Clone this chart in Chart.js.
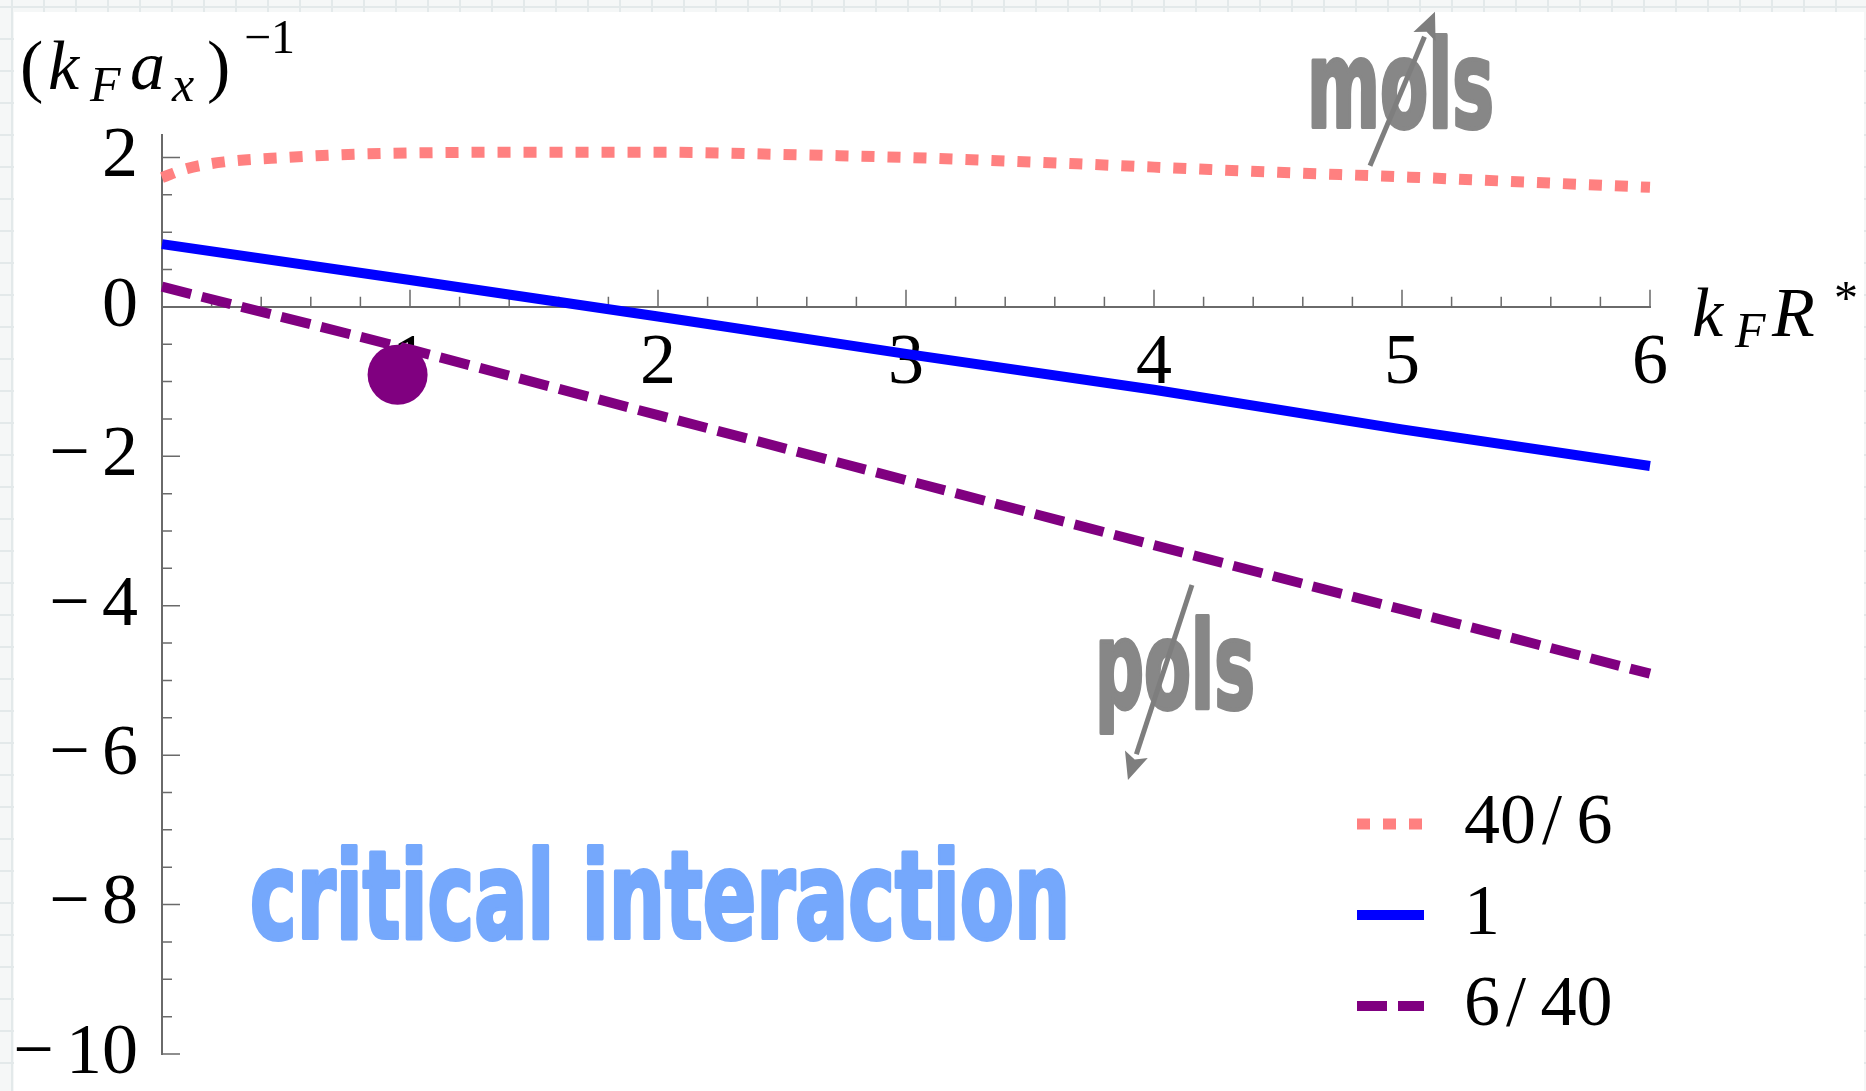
<!DOCTYPE html>
<html>
<head>
<meta charset="utf-8">
<title>(kF ax)^-1 frente a kF R*</title>
<script src="https://cdn.jsdelivr.net/npm/chart.js@4.4.1/dist/chart.umd.min.js"></script>
<style>
  html, body { margin: 0; padding: 0; }
  body {
    width: 1866px; height: 1091px; overflow: hidden; position: relative;
    background-color: #f5f7f7;
    background-image:
      linear-gradient(to right, #e3e9ea 2px, transparent 2px),
      linear-gradient(to bottom, #e3e9ea 2px, transparent 2px);
    background-size: 32px 32px;
    background-position: 11px 6px;
  }
  #hoja { position: absolute; left: 14px; top: 12px; width: 1850px; height: 1079px; background: #fff; }
  #contenedor { position: absolute; left: 0; top: 0; width: 1866px; height: 1091px; }
</style>
</head>
<body>
<div id="hoja"></div>
<div id="contenedor"><canvas id="graficoCritico"></canvas></div>
<script>
// curva 40/6
const xMasa406 = [0, 0.1, 0.25, 0.5, 0.75, 1, 1.5, 2, 2.5, 3, 3.5, 4, 4.5, 5, 5.5, 6];
const yMasa406 = [1.73, 1.85, 1.94, 2.00, 2.04, 2.06, 2.07, 2.07, 2.04, 2.00, 1.94, 1.87, 1.80, 1.74, 1.67, 1.60];
// curva 1
const xMasa1 = [0, 1, 2, 3, 4, 5, 6];
const yMasa1 = [0.84, 0.36, -0.13, -0.63, -1.11, -1.64, -2.13];
// curva 6/40
const xMasa640 = [0, 1, 2, 3, 4, 5, 6];
const yMasa640 = [0.27, -0.57, -1.45, -2.32, -3.19, -4.05, -4.91];
// punto marcado
const xPunto = [0.95];
const yPunto = [-0.91];

const etiquetas = ['40/6', '1', '6/40'];
const ticksX = [1, 2, 3, 4, 5, 6];
const ticksY = [2, 0, -2, -4, -6, -8, -10];

const serif = '"Liberation Serif", "Times New Roman", serif';
const rotulo = '"Liberation Sans Narrow", "DejaVu Sans Condensed", "DejaVu Sans", sans-serif';

function puntos(xs, ys) {
    return xs.map((x, i) => ({ x: x, y: ys[i] }));
}

function menos(v) {
    return v < 0 ? '\u2212\u200a\u200a' + (-v) : String(v);
}

// marcas de las escalas hacia dentro, como en Mathematica
const marcas = {
    id: 'marcas',
    beforeDatasetsDraw(chart) {
        const { ctx, scales: { x, y } } = chart;
        const y0 = y.getPixelForValue(0);
        const x0 = x.getPixelForValue(0);
        ctx.save();
        ctx.strokeStyle = '#6a6a6a';
        ctx.lineWidth = 1.5;
        ctx.beginPath();
        for (let k = 1; k <= 30; k++) {
            const px = x.getPixelForValue(k / 5);
            const largo = k % 5 === 0 ? 17 : 10;
            ctx.moveTo(px, y0);
            ctx.lineTo(px, y0 - largo);
        }
        for (let k = -20; k <= 4; k++) {
            if (k === 0) continue;
            const py = y.getPixelForValue(k / 2);
            const largo = k % 4 === 0 ? 18 : 10;
            ctx.moveTo(x0, py);
            ctx.lineTo(x0 + largo, py);
        }
        ctx.stroke();
        ctx.restore();
    }
};

const notas = [
    { texto: 'mols', x: 4.617, y: 2.41, ancho: 187, color: '#878787' },
    { texto: 'pols', x: 3.762, y: -5.368, ancho: 160, color: '#878787' },
    { texto: 'critical interaction', x: 0.355, y: -8.447, ancho: 820, color: '#75a8fc' }
];
const flechas = [
    { desde: [4.871, 1.888], hasta: [5.133, 3.949] },
    { desde: [4.153, -3.722], hasta: [3.895, -6.332] }
];

const anotaciones = {
    id: 'anotaciones',
    afterDatasetsDraw(chart) {
        const { ctx, scales: { x, y } } = chart;
        ctx.save();
        notas.forEach(n => {
            ctx.font = 'bold 122px ' + rotulo;
            const w = ctx.measureText(n.texto).width;
            ctx.save();
            ctx.translate(x.getPixelForValue(n.x), y.getPixelForValue(n.y));
            ctx.scale(n.ancho / w, 1);
            ctx.fillStyle = n.color;
            ctx.strokeStyle = n.color;
            ctx.lineWidth = 4;
            ctx.lineJoin = 'round';
            ctx.textBaseline = 'alphabetic';
            ctx.fillText(n.texto, 0, 0);
            ctx.strokeText(n.texto, 0, 0);
            ctx.restore();
        });
        flechas.forEach(f => {
            const x1 = x.getPixelForValue(f.desde[0]), y1 = y.getPixelForValue(f.desde[1]);
            const x2 = x.getPixelForValue(f.hasta[0]), y2 = y.getPixelForValue(f.hasta[1]);
            const ang = Math.atan2(y2 - y1, x2 - x1);
            const punta = 27, medio = 12;
            const bx = x2 - punta * Math.cos(ang), by = y2 - punta * Math.sin(ang);
            ctx.strokeStyle = '#7e7e7e';
            ctx.fillStyle = '#7e7e7e';
            ctx.lineWidth = 5;
            ctx.beginPath();
            ctx.moveTo(x1, y1);
            ctx.lineTo(bx, by);
            ctx.stroke();
            ctx.beginPath();
            ctx.moveTo(x2, y2);
            ctx.lineTo(bx + medio * Math.sin(ang), by - medio * Math.cos(ang));
            ctx.lineTo(x2 - 0.8 * punta * Math.cos(ang), y2 - 0.8 * punta * Math.sin(ang));
            ctx.lineTo(bx - medio * Math.sin(ang), by + medio * Math.cos(ang));
            ctx.closePath();
            ctx.fill();
        });
        ctx.restore();
    }
};

// leyenda a mano abajo a la derecha
const leyenda = {
    id: 'leyenda',
    afterDatasetsDraw(chart) {
        const ctx = chart.ctx;
        ctx.save();
        chart.data.datasets.forEach((ds, i) => {
            if (i >= etiquetas.length) return;
            const yy = 824 + i * 91;
            ctx.strokeStyle = ds.borderColor;
            ctx.lineWidth = ds.borderWidth;
            ctx.lineCap = 'butt';
            ctx.setLineDash(ds.borderDash || []);
            ctx.beginPath();
            ctx.moveTo(1357, yy);
            ctx.lineTo(1424, yy);
            ctx.stroke();
            ctx.setLineDash([]);
            ctx.fillStyle = '#000';
            ctx.font = '72px ' + serif;
            ctx.textBaseline = 'middle';
            ctx.fillText(ds.label.replace('/', '\u200a/\u2009'), 1464, yy);
        });
        ctx.restore();
    }
};

const titulos = {
    id: 'titulos',
    afterDraw(chart) {
        const ctx = chart.ctx;
        const piezas = [
            { t: '(', f: '70px ' + serif, x: 20, y: 89 },
            { t: 'k', f: 'italic 70px ' + serif, x: 48, y: 89 },
            { t: 'F', f: 'italic 50px ' + serif, x: 90, y: 101 },
            { t: 'a', f: 'italic 70px ' + serif, x: 130, y: 89 },
            { t: 'x', f: 'italic 50px ' + serif, x: 172, y: 101 },
            { t: ')', f: '70px ' + serif, x: 207, y: 89 },
            { t: '\u22121', f: '48px ' + serif, x: 244, y: 53 },
            { t: 'k', f: 'italic 70px ' + serif, x: 1692, y: 336 },
            { t: 'F', f: 'italic 50px ' + serif, x: 1735, y: 347 },
            { t: 'R', f: 'italic 70px ' + serif, x: 1772, y: 336 },
            { t: '*', f: '48px ' + serif, x: 1834, y: 314 }
        ];
        ctx.save();
        ctx.fillStyle = '#000';
        ctx.textBaseline = 'alphabetic';
        piezas.forEach(p => {
            ctx.font = p.f;
            ctx.fillText(p.t, p.x, p.y);
        });
        ctx.restore();
    }
};

function renderizarGrafico() {
    const contexto = document.getElementById('graficoCritico').getContext('2d');

    new Chart(contexto, {
        type: 'scatter',
        data: {
            datasets: [{
                label: etiquetas[0],
                data: puntos(xMasa406, yMasa406),
                showLine: true,
                borderColor: '#ff8080',
                borderWidth: 11,
                borderDash: [13, 13],
                cubicInterpolationMode: 'monotone',
                pointRadius: 0,
                clip: false
            }, {
                label: etiquetas[1],
                data: puntos(xMasa1, yMasa1),
                showLine: true,
                borderColor: '#0000ff',
                borderWidth: 10,
                pointRadius: 0,
                clip: false
            }, {
                label: etiquetas[2],
                data: puntos(xMasa640, yMasa640),
                showLine: true,
                borderColor: '#800080',
                borderWidth: 10,
                borderDash: [30, 11],
                pointRadius: 0,
                clip: false
            }, {
                label: 'punto',
                data: puntos(xPunto, yPunto),
                showLine: false,
                pointRadius: 30,
                pointBackgroundColor: '#800080',
                pointBorderWidth: 0,
                clip: false
            }]
        },
        options: {
            responsive: true,
            maintainAspectRatio: false,
            animation: false,
            layout: {
                autoPadding: false,
                padding: { left: 14, right: 216, top: 135, bottom: 37 }
            },
            plugins: {
                legend: { display: false },
                tooltip: { enabled: false }
            },
            scales: {
                x: {
                    type: 'linear',
                    min: 0,
                    max: 6,
                    position: { y: 0 },
                    afterBuildTicks: s => { s.ticks = ticksX.map(v => ({ value: v })); },
                    afterFit: s => { s.paddingLeft = 0; s.paddingRight = 0; },
                    ticks: {
                        autoSkip: false,
                        maxRotation: 0,
                        padding: 14,
                        color: '#000',
                        font: { family: serif, size: 72, lineHeight: 1.2 },
                        callback: v => menos(v)
                    },
                    grid: { drawOnChartArea: false, drawTicks: false },
                    border: { color: '#6a6a6a', width: 2 }
                },
                y: {
                    type: 'linear',
                    min: -10,
                    max: 2.3,
                    position: 'left',
                    afterBuildTicks: s => { s.ticks = ticksY.map(v => ({ value: v })); },
                    afterFit: s => { s.width = 148; s.paddingTop = 0; s.paddingBottom = 0; },
                    ticks: {
                        autoSkip: false,
                        padding: 24,
                        color: '#000',
                        font: { family: serif, size: 72, lineHeight: 1.2 },
                        callback: v => menos(v)
                    },
                    grid: { drawOnChartArea: false, drawTicks: false },
                    border: { color: '#6a6a6a', width: 2 }
                }
            }
        },
        plugins: [marcas, anotaciones, leyenda, titulos]
    });
}

renderizarGrafico();
</script>
</body>
</html>
